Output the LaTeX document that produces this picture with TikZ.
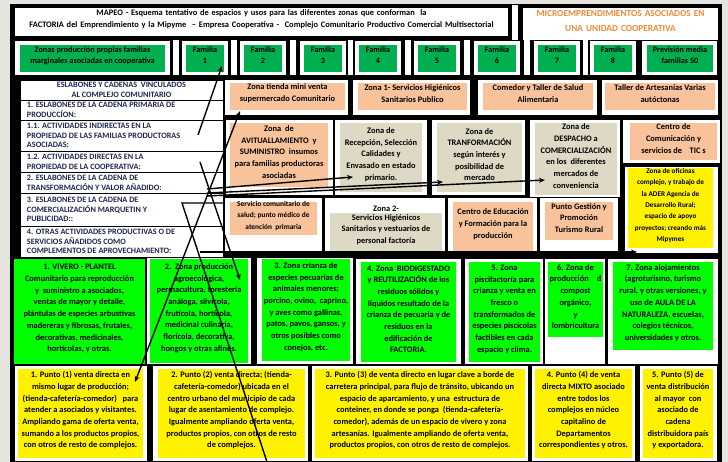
\documentclass[tikz,border=0pt]{standalone}
\usepackage{fontspec}
\setmainfont{Carlito}
\usetikzlibrary{positioning,fit,arrows.meta}

\definecolor{framegray}{HTML}{E6E4DE}
\definecolor{famgreen}{HTML}{00B050}
\definecolor{peach}{HTML}{F8C39B}
\definecolor{sand}{HTML}{DDD9C4}
\definecolor{limegreen}{HTML}{00FF00}
\definecolor{headorange}{HTML}{F08A3A}
\definecolor{navyink}{HTML}{1F2552}

\begin{document}
\begin{tikzpicture}[x=1pt, y=-1pt, >={Stealth[length=6pt,width=5pt]}, every node/.style={inner sep=0pt, outer sep=0pt}]
    \tikzstyle{cell} = [fill=white]
    \tikzstyle{family} = [fill=famgreen, align=center, font=\fontsize{8.2}{11}\selectfont\bfseries]
    \tikzstyle{service} = [fill=peach, align=center, font=\fontsize{8.4}{11.7}\selectfont\bfseries]
    \tikzstyle{process} = [fill=sand, align=center, font=\fontsize{8.4}{11.7}\selectfont\bfseries]
    \tikzstyle{production} = [fill=limegreen, align=center, font=\fontsize{8.4}{11.7}\selectfont\bfseries]
    \tikzstyle{salepoint} = [fill=yellow, align=center, font=\fontsize{8.4}{11.7}\selectfont\bfseries]
    \tikzstyle{chainrow} = [fill=white, draw=black, line width=0.5pt]
    \tikzstyle{chaintext} = [text=navyink, align=left, font=\fontsize{8.2}{9.8}\selectfont\bfseries]
    \tikzstyle{link} = [->, black, line width=1.4pt]

    \useasboundingbox (0,0) rectangle (728,462);
    \fill [framegray] (0,0) rectangle (728,462);
    \fill [black] (10,4) rectangle (722,462);

    % Title block
    \node [cell, fit={(15,8) (508,36)}, align=center, font=\fontsize{8.4}{12}\selectfont\bfseries] (title) {MAPEO - Esquema tentativo de espacios y usos para las diferentes zonas que conforman\ \ la\\FACTORIA del Emprendimiento y la Mipyme\ \ -- Empresa Cooperativa -\ \ Complejo Comunitario Productivo Comercial Multisectorial};
    \node [cell, fit={(512,5) (518,40)}] (titlegap) {};
    \node [cell, fit={(523,8) (718,40)}, text=headorange, align=center, font=\fontsize{9.3}{15}\selectfont\bfseries] (micro) {MICROEMPRENDIMIENTOS ASOCIADOS EN\\UNA UNIDAD COOPERATIVA};

    % Family production zones
    \foreach \xa/\xb [count=\i] in {173/179, 231/237, 290/296, 348/353, 405/411, 464/470, 524/530, 583/588}
        \node [cell, fit={(\xa,40) (\xb,75)}] (gap\i) {};
    \node [cell, fit={(15,41) (170,75)}] (zonasCell) {};
    \node [family, fit={(20,45) (165,72)}] (zonas) {Zonas producción propias familias\\marginales asociadas en cooperativa};
    \node [cell, fit={(182,41) (228,75)}] (fam1Cell) {};
    \node [family, fit={(186,45) (224,72)}] (fam1) {Familia\\1};
    \node [cell, fit={(240,41) (286,75)}] (fam2Cell) {};
    \node [family, fit={(244,45) (282,72)}] (fam2) {Familia\\2};
    \node [cell, fit={(300,41) (346,75)}] (fam3Cell) {};
    \node [family, fit={(304,45) (342,72)}] (fam3) {Familia\\3};
    \node [cell, fit={(355,41) (401,75)}] (fam4Cell) {};
    \node [family, fit={(359,45) (397,72)}] (fam4) {Familia\\4};
    \node [cell, fit={(414,41) (460,75)}] (fam5Cell) {};
    \node [family, fit={(418,45) (456,72)}] (fam5) {Familia\\5};
    \node [cell, fit={(474,41) (520,75)}] (fam6Cell) {};
    \node [family, fit={(478,45) (516,72)}] (fam6) {Familia\\6};
    \node [cell, fit={(534,41) (580,75)}] (fam7Cell) {};
    \node [family, fit={(538,45) (576,72)}] (fam7) {Familia\\7};
    \node [cell, fit={(590,41) (636,75)}] (fam8Cell) {};
    \node [family, fit={(594,45) (632,72)}] (fam8) {Familia\\8};
    \node [cell, fit={(642,41) (717,75)}] (prevCell) {};
    \node [family, fit={(647,45) (713,72)}] (prev) {Previsión media\\familias 50};

    % Chain links table
    \node [chainrow, fit={(20,80) (223,100)}] (chainHead) {};
    \node [chainrow, fit={(20,100) (223,120)}] (chainPrim) {};
    \node [chainrow, fit={(20,120) (223,151)}] (chainInd) {};
    \node [chainrow, fit={(20,151) (223,172)}] (chainDir) {};
    \node [chainrow, fit={(20,172) (223,193)}] (chainTrans) {};
    \node [chainrow, fit={(20,193) (223,226)}] (chainCom) {};
    \node [chainrow, fit={(20,226) (223,257)}] (chainOtras) {};
    \node [chaintext, align=center] at (chainHead.center) (headText) {ESLABONES Y CADENAS\ \ VINCULADOS\\AL COMPLEJO COMUNITARIO};
    \node [chaintext, right=7pt of chainPrim.west] (primText) {1. ESLABONES DE LA CADENA PRIMARIA DE\\PRODUCCÍON:};
    \node [chaintext, right=7pt of chainInd.west] (indText) {1.1. ACTIVIDADES INDIRECTAS EN LA\\PROPIEDAD DE LAS FAMILIAS PRODUCTORAS\\ASOCIADAS:};
    \node [chaintext, right=7pt of chainDir.west] (dirText) {1.2. ACTIVIDADES DIRECTAS EN LA\\PROPIEDAD DE LA COOPERATIVA:};
    \node [chaintext, right=7pt of chainTrans.west] (transText) {2. ESLABONES DE LA CADENA DE\\TRANSFORMACIÓN Y VALOR AÑADIDO:};
    \node [chaintext, right=7pt of chainCom.west] (comText) {3. ESLABONES DE LA CADENA DE\\COMERCIALIZACIÓN MARQUETIN Y\\PUBLICIDAD::};
    \node [chaintext, right=7pt of chainOtras.west] (otrasText) {4. OTRAS ACTIVIDADES PRODUCTIVAS O DE\\SERVICIOS AÑADIDOS COMO\\COMPLEMENTOS DE APROVECHAMIENTO:};

    % Community services
    \node [cell, fit={(225,80) (348,115)}] (superCell) {};
    \node [service, fit={(230,83) (345,110)}] (super) {Zona tienda mini venta\\supermercado Comunitario};
    \node [cell, fit={(353,80) (470,115)}] (hig1Cell) {};
    \node [service, fit={(358,83) (467,110)}] (hig1) {Zona 1- Servicios Higiénicos\\Sanitarios Publico};
    \node [cell, fit={(478,80) (597,115)}] (comedorCell) {};
    \node [service, fit={(483,83) (593,110)}] (comedor) {Comedor y Taller de Salud\\Alimentaria};
    \node [cell, fit={(602,80) (718,115)}] (tallerCell) {};
    \node [service, fit={(605,83) (715,110)}] (taller) {Taller de Artesanías Varias\\autóctonas};

    % Processing zones
    \node [cell, fit={(226,120) (333,195)}] (avitCell) {};
    \node [service, fit={(230,123) (328,187)}] (avit) {Zona\ \ de\\AVITUALLAMIENTO\ \ y\\SUMINISTRO\ \ insumos\\para familias productoras\\asociadas};
    \node [cell, fit={(335,120) (427,195)}] (recepCell) {};
    \node [process, fit={(340,123) (422,192)}] (recep) {Zona de\\Recepción, Selección\\Calidades y\\Envasado en estado\\primario.};
    \node [cell, fit={(432,120) (525,195)}] (transCell) {};
    \node [process, fit={(437,123) (522,192)}] (trans) {Zona de\\TRANFORMACIÓN\\según interés y\\posibilidad de\\mercado};
    \node [cell, fit={(530,120) (620,197)}] (despCell) {};
    \node [process, fit={(535,123) (617,195)}] (desp) {Zona de\\DESPACHO a\\COMERCIALIZACIÓN\\en los\ \ diferentes\\mercados de\\conveniencia};
    \node [cell, fit={(623,120) (720,163)}] (ticCell) {};
    \node [service, fit={(630,123) (717,160)}] (tic) {Centro de\\Comunicación y\\servicios de\ \ \ \ TIC s};
    \node [cell, fit={(625,167) (718,253)}] (oficCell) {};
    \node [salepoint, fit={(628,168) (713,248)}, font=\fontsize{7.2}{11.3}\selectfont\bfseries] (ofic) {Zona de oficinas\\complejo, y trabajo de\\la ADER Agencia de\\Desarrollo Rural;\\espacio de apoyo\\proyectos; creando más\\Mipymes};

    \node [cell, fit={(225,198) (322,253)}] (saludCell) {};
    \node [service, fit={(230,202) (317,235)}, font=\fontsize{7.4}{11.5}\selectfont\bfseries] (salud) {Servicio comunitario de\\salud; punto médico de\\atención\ \ primaria};
    \node [cell, fit={(325,198) (445,253)}] (hig2Cell) {};
    \node [process, fit={(330,213) (442,252)}] (hig2) {Servicios Higiénicos\\Sanitarios y vestuarios de\\personal factoría};
    \node [above=1.5pt of hig2, font=\fontsize{8.4}{11.7}\selectfont\bfseries] (hig2Title) {Zona 2-};
    \node [cell, fit={(448,198) (537,253)}] (educCell) {};
    \node [service, fit={(453,202) (533,252)}] (educ) {Centro de Educación\\y Formación para la\\producción};
    \node [cell, fit={(540,198) (618,253)}] (turisCell) {};
    \node [service, fit={(545,202) (613,240)}] (turis) {Punto Gestión y\\Promoción\\Turismo Rural};

    % Production zones
    \node [production, fit={(14,259) (145,364)}] (vivero) {1. VIVERO - PLANTEL\\Comunitario para reproducción\\y\ \ suministro a asociados,\\ventas de mayor y detalle,\\plántulas de especies arbustivas\\madereras y fibrosas, frutales,\\decorativas, medicinales,\\hortícolas, y otras.};
    \node [cell, fit={(147,258) (251,364)}] (agroCell) {};
    \node [production, fit={(150,259) (248,363)}] (agro) {2.\ \ Zona producción\\agroecológica,\\permacultura, forestería\\análoga, silvícola,\\frutícola, hortícola,\\medicinal culinaria,\\florícola, decorativa,\\hongos y otras afines.};
    \node [cell, fit={(257,258) (353,364)}] (crianzaCell) {};
    \node [production, fit={(262,259) (350,361)}] (crianza) {3. Zona crianza de\\especies pecuarias de\\animales menores;\\porcino, ovino,\ \ caprino,\\y aves como gallinas,\\patos, pavos, gansos, y\\otros posibles como\\conejos, etc.};
    \node [cell, fit={(356,259) (461,364)}] (biodigCell) {};
    \node [production, fit={(361,262) (456,362)}] (biodig) {4. Zona\ \ BIODIGESTADO\\y REUTILIZACIÓN de los\\residuos sólidos y\\líquidos resultado de la\\crianza de pecuaria y de\\residuos en la\\edificación de\\FACTORIA.};
    \node [cell, fit={(465,259) (543,364)}] (pisciCell) {};
    \node [production, fit={(469,262) (540,362)}] (pisci) {5. Zona\\piscifactoría para\\crianza y venta en\\fresco o\\transformados de\\especies piscícolas\\factibles en cada\\espacio y clima.};
    \node [cell, fit={(545,259) (605,364)}] (compostCell) {};
    \node [production, fit={(548,262) (603,337)}] (compost) {6. Zona de\\producción\hspace{8pt}d\\compost\\orgánico,\\y\\lombricultura};
    \node [cell, fit={(608,259) (718,364)}] (alojCell) {};
    \node [production, fit={(613,262) (713,350)}] (aloj) {7. Zona alojamientos\\(agroturismo, turismo\\rural, y otras versiones, y\\uso de AULA DE LA\\NATURALEZA, escuelas,\\colegios técnicos,\\universidades y otros.};

    % Sale points
    \node [cell, fit={(15,366) (147,461)}] (punto1Cell) {};
    \node [salepoint, fit={(18,369) (143,458)}] (punto1) {1. Punto (1) venta directa en\\mismo lugar de producción;\\(tienda-cafetería-comedor)\ \ \ para\\atender a asociados y visitantes.\\Ampliando gama de oferta venta,\\sumando a los productos propios,\\con otros de resto de complejos.};
    \node [cell, fit={(153,366) (308,461)}] (punto2Cell) {};
    \node [salepoint, fit={(158,369) (305,458)}] (punto2) {2. Punto (2) venta directa; (tienda-\\cafetería-comedor) ubicada en el\\centro urbano del municipio de cada\\lugar de asentamiento de complejo.\\Igualmente ampliando oferta venta,\\productos propios, con otros de resto\\de complejos.};
    \node [cell, fit={(312,366) (528,461)}] (punto3Cell) {};
    \node [salepoint, fit={(315,369) (525,458)}] (punto3) {3. Punto (3) de venta directo en lugar clave a borde de\\carretera principal, para flujo de tránsito, ubicando un\\espacio de aparcamiento, y una\ \ estructura de\\conteiner, en donde se ponga\ \ (tienda-cafetería-\\comedor), además de un espacio de vivero y zona\\artesanías. Igualmente ampliando de oferta venta,\\productos propios, con otros de resto de complejos.};
    \node [cell, fit={(532,366) (635,461)}] (punto4Cell) {};
    \node [salepoint, fit={(535,369) (632,458)}] (punto4) {4. Punto (4) de venta\\directa MIXTO asociado\\entre todos los\\complejos en núcleo\\capitalino de\\Departamentos\\correspondientes y otros.};
    \node [cell, fit={(640,366) (717,461)}] (punto5Cell) {};
    \node [salepoint, fit={(643,369) (713,458)}] (punto5) {5. Punto (5) de\\venta distribución\\al mayor\ \ con\\asociado de\\cadena\\distribuidora país\\y exportadora.};

    % Links between chains and zones
    \coordinate (indStart) at (198,135);
    \coordinate (fam1Tip) at (222,66);
    \coordinate (superTip) at (240,111);
    \coordinate (punto1Tip) at (135,382);
    \coordinate (dirStart) at (200,162);
    \coordinate (agroTip) at (240,280);
    \coordinate (recepStart) at (207,189);
    \coordinate (transStart) at (207,193);
    \coordinate (despStart) at (207,196);
    \coordinate (recepTip) at (353,177);
    \coordinate (transTip) at (443,182);
    \coordinate (despTip) at (545,180);
    \coordinate (comStart) at (182,203);
    \coordinate (comEnd) at (223,203);
    \coordinate (punto2End) at (267,462);
    \coordinate (otrasStart) at (200,252);
    \coordinate (oficTip) at (637,252);

    \draw [link] (indStart) -- (fam1Tip);
    \draw [link, <->] (punto1Tip) -- (superTip);
    \draw [link] (dirStart) -- (agroTip);
    \draw [link] (recepStart) -- (recepTip);
    \draw [link] (transStart) -- (transTip);
    \draw [link] (despStart) -- (despTip);
    \draw [link, -] (comEnd) -- (comStart) -- (punto2End);
    \draw [link] (otrasStart) -- (oficTip);
\end{tikzpicture}
\end{document}
